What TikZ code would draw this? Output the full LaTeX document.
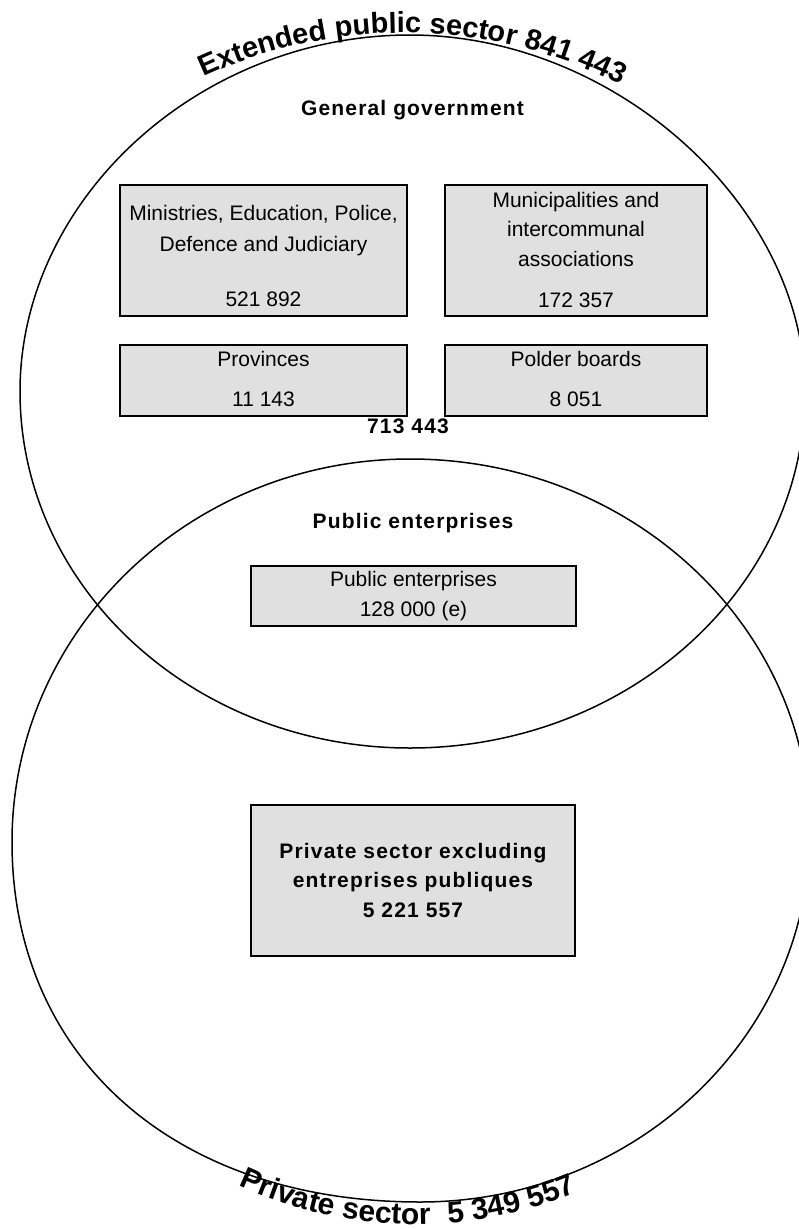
\documentclass[tikz,border=0pt]{standalone}
\usepackage{fontspec}
\setmainfont{Liberation Sans}
\newfontfamily\boldsp[LetterSpace=5.5]{Liberation Sans}
\usetikzlibrary{decorations.text}
\definecolor{boxgray}{RGB}{224,224,224}
\tikzset{
  ringline/.style={draw, line width=1.5pt},
  pbox/.style={draw, line width=2pt, fill=boxgray, inner sep=0pt},
  rt/.style={font=\fontsize{21}{21}\selectfont, inner sep=0pt, anchor=base},
  bt/.style={font=\fontsize{21}{21}\selectfont\boldsp\bfseries, inner sep=0pt, anchor=base},
}
\begin{document}
\begin{tikzpicture}[x=1pt,y=1pt]
\useasboundingbox (0,0) rectangle (799,-1229);
\clip (0,0) rectangle (799,-1229);
% extended public sector
\draw[ringline] (20,-391.5) .. controls (20,-199) and (199.4,-35) .. (410,-35)
  .. controls (615.4,-35) and (805,-206.1) .. (805,-391.5)
  .. controls (805,-588.4) and (628.2,-748) .. (410,-748)
  .. controls (194.6,-748) and (20,-588.4) .. cycle;
% private sector
\draw[ringline] (12,-842) .. controls (12,-630.5) and (190.2,-459) .. (410,-459)
  .. controls (631,-459) and (810,-626) .. (810,-832)
  .. controls (810,-1036.4) and (635.4,-1202) .. (420,-1202)
  .. controls (175.2,-1202) and (12,-1058) .. cycle;
% curved titles
\path[decorate, decoration={text along path, text align=center,
  text={|\fontsize{29}{29}\selectfont\bfseries|Extended public sector 841 443}}]
  (404,-513) ++(150:480) arc[start angle=150, end angle=27.86, radius=480];
\path[decorate, decoration={text along path, text align=center,
  text={|\fontsize{30}{30}\selectfont\bfseries|Private sector {\hspace*{9pt}}5 349 557}}]
  (415.6,-802.5) ++(199:421.8) arc[start angle=199, end angle=338.66, radius=421.8];
% general government
\node[bt] (gg) at (412.5,-115.7) {General government};
\node[pbox, minimum width=287pt, minimum height=131pt] (b1) at (263.5,-250.5) {};
\node[pbox, minimum width=262pt, minimum height=131pt] (b2) at (576,-250.5) {};
\node[pbox, minimum width=287pt, minimum height=71pt] (b3) at (263.5,-380.5) {};
\node[pbox, minimum width=262pt, minimum height=71pt] (b4) at (576,-380.5) {};
\node[rt] (b1a) at (263.5,-220) {Ministries, Education, Police,};
\node[rt] (b1b) at (263.5,-251.7) {Defence and Judiciary};
\node[rt] (b1c) at (263.5,-306.7) {521 892};
\node[rt] (b2a) at (576,-207) {Municipalities and};
\node[rt] (b2b) at (576,-236.7) {intercommunal};
\node[rt] (b2c) at (576,-266.7) {associations};
\node[rt] (b2d) at (576,-307) {172 357};
\node[rt] (b3a) at (263.5,-366.7) {Provinces};
\node[rt] (b3b) at (263.5,-406.7) {11 143};
\node[rt] (b4a) at (576,-366.3) {Polder boards};
\node[rt] (b4b) at (576,-406.7) {8 051};
\node[bt] (ggt) at (408,-433) {713 443};
% public enterprises
\node[bt] (pe) at (413,-528.3) {Public enterprises};
\node[pbox, minimum width=325pt, minimum height=60pt] (b5) at (413.5,-596) {};
\node[rt] (b5a) at (413.5,-586.7) {Public enterprises};
\node[rt] (b5b) at (413.5,-616.7) {128 000 (e)};
% private sector box
\node[pbox, minimum width=324pt, minimum height=151pt] (b6) at (413,-880.5) {};
\node[bt] (b6a) at (413,-858.3) {Private sector excluding};
\node[bt] (b6b) at (413,-887.3) {entreprises publiques};
\node[bt] (b6c) at (413,-917.3) {5 221 557};
\end{tikzpicture}
\end{document}
